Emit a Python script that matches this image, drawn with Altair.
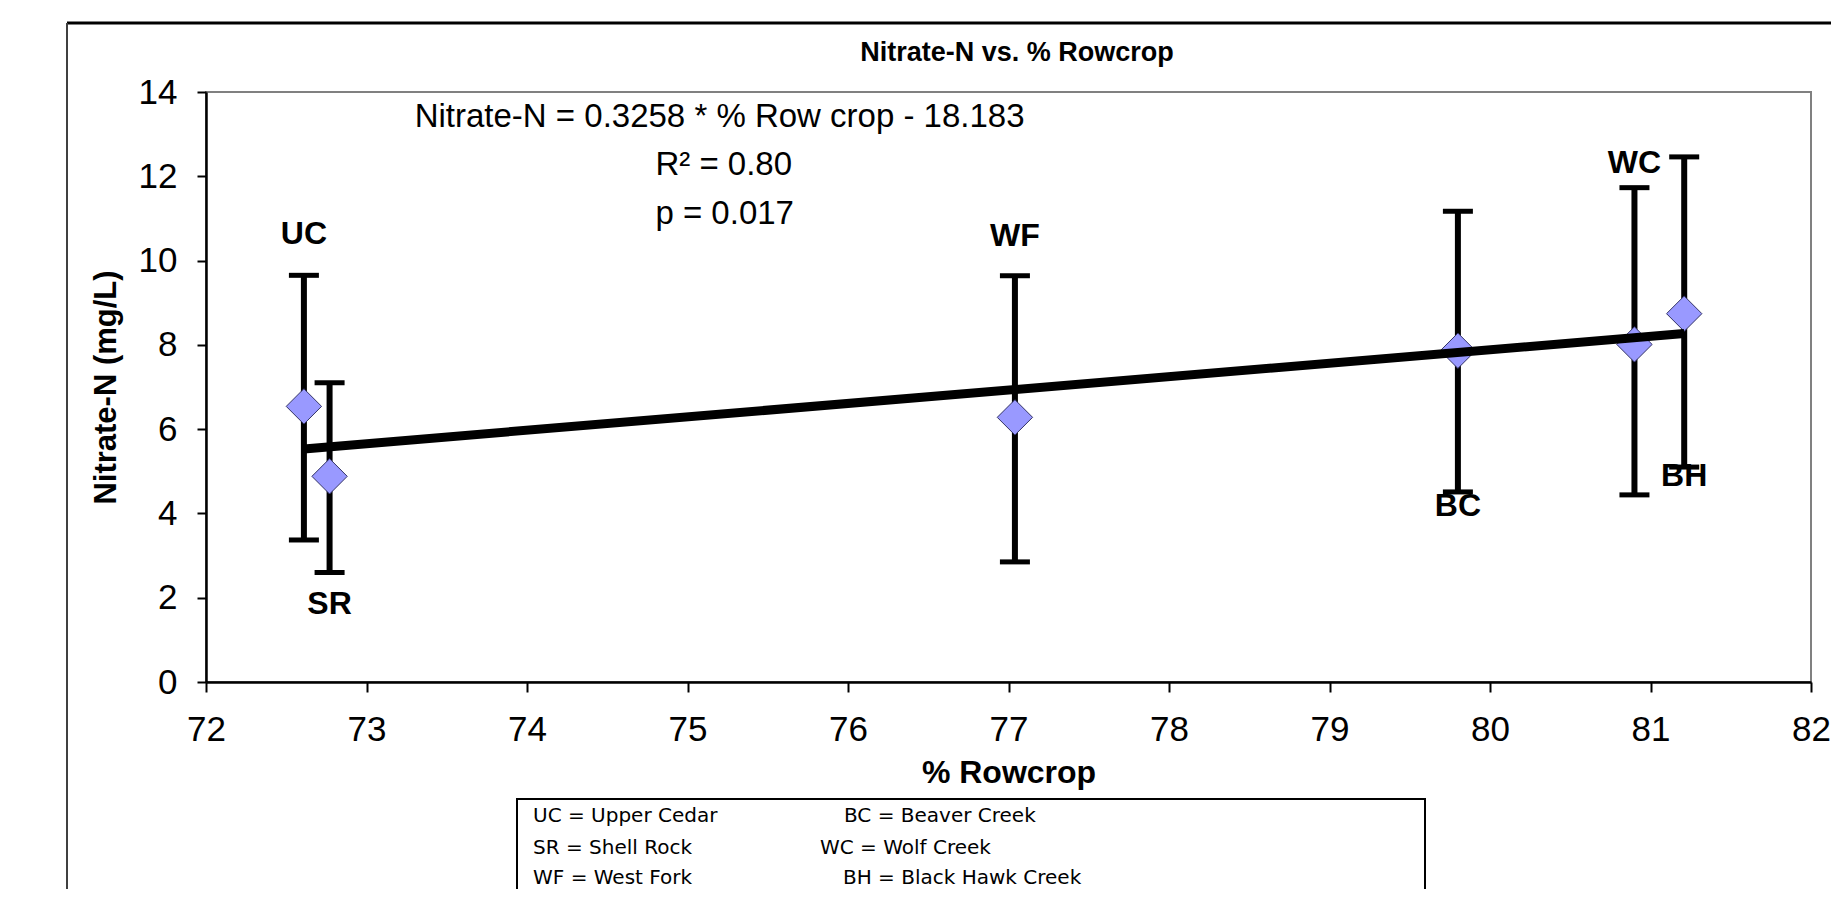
import altair as alt
import pandas as pd

# ---- data ----
sites = ["UC", "SR", "WF", "BC", "WC", "BH"]
rowcrop = [72.61, 72.77, 77.04, 79.80, 80.90, 81.21]
nitrate = [6.54, 4.88, 6.28, 7.86, 8.01, 8.74]
err_low = [3.37, 2.60, 2.85, 4.51, 4.44, 5.10]
err_high = [9.65, 7.10, 9.64, 11.17, 11.73, 12.46]
label_y = [10.64, 1.85, 10.59, 4.17, 12.32, 4.90]

x_ticks = list(range(72, 83))
y_ticks = list(range(0, 15, 2))

title_text = "Nitrate-N vs. % Rowcrop"
eq_text = "Nitrate-N = 0.3258 * %  Row crop - 18.183"
r2_text = "R² = 0.80"
p_text = "p = 0.017"

legend_left = ["UC = Upper Cedar", "SR = Shell Rock", "WF = West Fork"]
legend_right = ["BC = Beaver Creek", "WC = Wolf Creek", "BH = Black Hawk Creek"]

SANS = "'Liberation Sans', Arial, sans-serif"
DEJA = "'DejaVu Sans', sans-serif"

W, H = 1605, 590

df = pd.DataFrame({
    "site": sites,
    "rowcrop": rowcrop,
    "nitrate": nitrate,
    "low": err_low,
    "high": err_high,
    "label_y": label_y,
})

xscale = alt.Scale(domain=[72, 82], nice=False, zero=False)
yscale = alt.Scale(domain=[0, 14], nice=False, zero=True)

X = alt.X("rowcrop:Q", scale=xscale,
          axis=alt.Axis(values=x_ticks, format="d", title="% Rowcrop", grid=False,
                        tickSize=10, tickWidth=2, tickColor="black",
                        domainColor="black", domainWidth=2.5,
                        labelFont=SANS, labelFontSize=35, labelColor="black",
                        labelPadding=20, labelFlush=False,
                        titleFont=SANS, titleFontSize=32, titleFontWeight="bold",
                        titleColor="black", titlePadding=10))
Y = alt.Y("nitrate:Q", scale=yscale,
          axis=alt.Axis(values=y_ticks, format="d", title="Nitrate-N (mg/L)", grid=False,
                        tickSize=9, tickWidth=2, tickColor="black",
                        domainColor="black", domainWidth=2.5,
                        labelFont=SANS, labelFontSize=35, labelColor="black",
                        labelPadding=20, labelFlush=False,
                        titleFont=SANS, titleFontSize=31, titleFontWeight="bold",
                        titleColor="black", titlePadding=16))

base = alt.Chart(df)

bars = base.mark_rule(color="black", strokeWidth=6).encode(
    x=X, y=alt.Y("low:Q", scale=yscale), y2="high:Q")
cap_lo = base.mark_tick(orient="horizontal", color="black", size=30, thickness=5,
                        opacity=1).encode(
    x=alt.X("rowcrop:Q", scale=xscale), y=alt.Y("low:Q", scale=yscale))
cap_hi = base.mark_tick(orient="horizontal", color="black", size=30, thickness=5,
                        opacity=1).encode(
    x=alt.X("rowcrop:Q", scale=xscale), y=alt.Y("high:Q", scale=yscale))
points = base.mark_point(shape="diamond", filled=True, size=1250, fill="#9999ff",
                         stroke="#333366", strokeWidth=1, opacity=1).encode(x=X, y=Y)
trend = base.transform_regression("rowcrop", "nitrate").mark_line(
    color="black", strokeWidth=9, strokeCap="butt").encode(
    x=alt.X("rowcrop:Q", scale=xscale), y=alt.Y("nitrate:Q", scale=yscale))
labels = base.mark_text(font=SANS, fontSize=32, fontWeight="bold", color="black",
                        align="center", baseline="middle").encode(
    x=alt.X("rowcrop:Q", scale=xscale), y=alt.Y("label_y:Q", scale=yscale), text="site:N")

one = pd.DataFrame({"k": [0]})
ann = alt.Chart(one)
eq = ann.mark_text(text=eq_text, font=SANS, fontSize=33, color="black",
                   align="center", baseline="middle").encode(
    x=alt.datum(75.2, scale=xscale), y=alt.datum(13.41, scale=yscale))
r2 = ann.mark_text(text=r2_text, font=SANS, fontSize=33, color="black",
                   align="left", baseline="middle").encode(
    x=alt.datum(74.8, scale=xscale), y=alt.datum(12.27, scale=yscale))
pv = ann.mark_text(text=p_text, font=SANS, fontSize=33, color="black",
                   align="left", baseline="middle").encode(
    x=alt.datum(74.8, scale=xscale), y=alt.datum(11.1, scale=yscale))

title = ann.mark_text(text=title_text, font=SANS, fontSize=27, fontWeight="bold",
                      color="black", align="center", baseline="middle").encode(
    x=alt.value(811), y=alt.value(-39))

# outer chart frame (cut by the picture edges) and legend box
frame_top = ann.mark_rule(color="black", strokeWidth=3).encode(
    x=alt.value(-139), x2=alt.value(W + 40), y=alt.value(-69))
frame_left = ann.mark_rule(color="#404040", strokeWidth=2).encode(
    x=alt.value(-139), y=alt.value(-69), y2=alt.value(H + 260))
legend_box = ann.mark_rect(fill="white", stroke="black", strokeWidth=2).encode(
    x=alt.value(311), x2=alt.value(1219), y=alt.value(707), y2=alt.value(H + 260))

legend_layers = []
row_y = [724, 756, 786]
right_x = [638, 614, 637]
for i, t in enumerate(legend_left):
    legend_layers.append(ann.mark_text(text=t, font=DEJA, fontSize=20, color="black",
                                       align="left", baseline="middle").encode(
        x=alt.value(327), y=alt.value(row_y[i])))
for i, t in enumerate(legend_right):
    legend_layers.append(ann.mark_text(text=t, font=DEJA, fontSize=20, color="black",
                                       align="left", baseline="middle").encode(
        x=alt.value(right_x[i]), y=alt.value(row_y[i])))

chart = alt.layer(
    frame_top, frame_left, legend_box, *legend_layers,
    bars, cap_lo, cap_hi, points, trend, labels, eq, r2, pv, title
).properties(
    width=W, height=H,
    autosize=alt.AutoSizeParams(type="none"),
    padding={"left": 198, "top": 84, "right": 20, "bottom": 207},
    background="white",
).configure_view(
    stroke="#808080", strokeWidth=2
)

chart.save("out.html", embed_options={"renderer": "svg", "actions": False})
